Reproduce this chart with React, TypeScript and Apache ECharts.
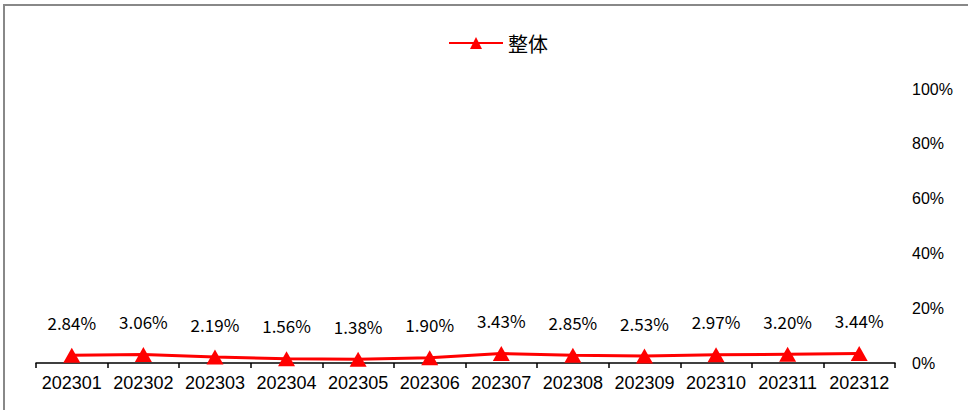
import React, { useEffect, useRef } from "react";
import * as echarts from "echarts";

// Monthly share (%) for the whole portfolio, 2023
const months = [
  "202301", "202302", "202303", "202304", "202305", "202306",
  "202307", "202308", "202309", "202310", "202311", "202312",
];
const overall = [2.84, 3.06, 2.19, 1.56, 1.38, 1.9, 3.43, 2.85, 2.53, 2.97, 3.2, 3.44];
const seriesName = "整体";

export default function App() {
  const ref = useRef<HTMLDivElement>(null);

  useEffect(() => {
    if (!ref.current) return;
    const chart = echarts.init(ref.current, null, { renderer: "svg" });
    chart.setOption({
      animation: false,
      backgroundColor: "#fff",
      graphic: [
        {
          type: "rect",
          shape: { x: 4, y: 5, width: 1100, height: 600 },
          style: { fill: "none", stroke: "#888", lineWidth: 2 },
          silent: true,
        },
      ],
      legend: {
        data: [seriesName],
        left: 443,
        top: 28,
        itemWidth: 54,
        itemHeight: 15,
        itemGap: 6,
        textStyle: {
          fontSize: 20,
          color: "#000",
          fontFamily: "Noto Sans CJK SC",
        },
      },
      grid: { left: 36, right: 73, top: 89, bottom: 47 },
      xAxis: {
        type: "category",
        data: months,
        boundaryGap: true,
        axisLine: { lineStyle: { color: "#000", width: 1.5 } },
        axisTick: { show: true, length: 5, lineStyle: { color: "#000", width: 1.5 } },
        axisLabel: {
          interval: 0,
          color: "#000",
          fontSize: 18,
          margin: 11,
          fontFamily: "Liberation Sans, Arial, sans-serif",
        },
      },
      yAxis: {
        type: "value",
        position: "right",
        min: 0,
        max: 100,
        interval: 20,
        axisLine: { show: false },
        axisTick: { show: false },
        splitLine: { show: false },
        axisLabel: {
          formatter: "{value}%",
          color: "#000",
          fontSize: 16,
          margin: 17,
          fontFamily: "Liberation Sans, Arial, sans-serif",
        },
      },
      series: [
        {
          name: seriesName,
          type: "line",
          data: overall,
          symbol: "triangle",
          symbolSize: [17, 15],
          lineStyle: { color: "#ff0000", width: 3 },
          itemStyle: { color: "#ff0000" },
          label: {
            show: true,
            position: "top",
            distance: 17,
            color: "#000",
            fontSize: 17,
            fontFamily: "Noto Sans CJK SC",
            formatter: (p: any) => p.value.toFixed(2) + "%",
          },
        },
      ],
    });
    return () => chart.dispose();
  }, []);

  return (
    <div
      ref={ref}
      style={{ position: "fixed", left: 0, top: 0, width: 968, height: 410 }}
    />
  );
}
